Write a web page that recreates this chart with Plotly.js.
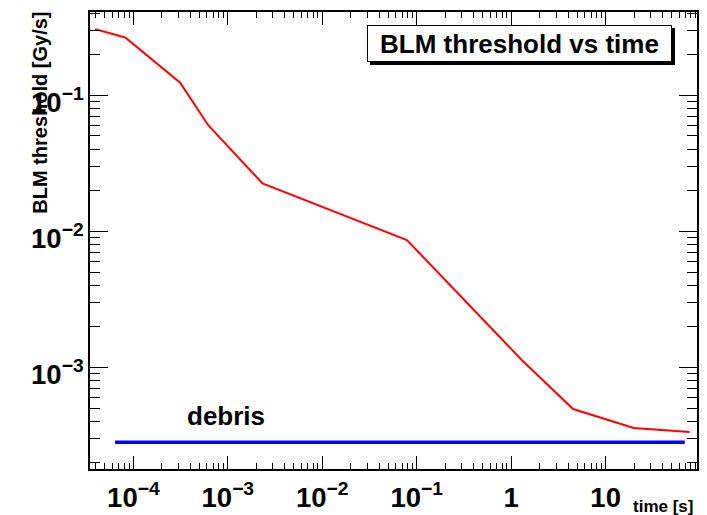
<!DOCTYPE html>
<html>
<head>
<meta charset="utf-8">
<script src="https://cdn.plot.ly/plotly-3.0.1.min.js"></script>
<style>html,body{margin:0;padding:0;background:#fff;}#chart{width:707px;height:515px;}</style>
</head>
<body>
<div id="chart"></div>
<script>
// BLM threshold curve (time in s, threshold in Gy/s)
const thresholdTime = [3.93e-5, 8.2e-5, 3.13e-4, 6.2e-4, 2.33e-3, 0.0787, 1.30, 4.52, 19.8, 77.6];
const thresholdValue = [0.305, 0.265, 0.123, 0.060, 0.0224, 0.0086, 1.125e-3, 4.93e-4, 3.58e-4, 3.34e-4];
// debris level (constant)
const debrisTime = [6.4e-5, 68.7];
const debrisValue = [2.81e-4, 2.81e-4];

const chartTitle = "BLM threshold vs time";
const xTitle = "time [s]";
const yTitle = "BLM threshold [Gy/s]";
const debrisLabel = "debris";

const FONT = "Liberation Sans, Arial, Helvetica, sans-serif";

const traces = [
  {x: thresholdTime, y: thresholdValue, type: 'scatter', mode: 'lines',
   line: {color: '#ff0000', width: 2}, showlegend: false, hoverinfo: 'skip'},
  {x: debrisTime, y: debrisValue, type: 'scatter', mode: 'lines',
   line: {color: '#0000ff', width: 3.5}, showlegend: false, hoverinfo: 'skip'}
];

const axisCommon = {
  type: 'log', showgrid: false, zeroline: false,
  showline: true, linecolor: '#000', linewidth: 2, mirror: 'allticks',
  ticks: 'inside', tickcolor: '#000', tickwidth: 1,
  dtick: 1, exponentformat: 'power',
  tickfont: {family: FONT, size: 22, color: '#000', weight: 'bold'},
};

const layout = {
  width: 707, height: 515,
  margin: {l: 90, r: 10, t: 12, b: 46},
  paper_bgcolor: '#fff', plot_bgcolor: '#fff',
  showlegend: false,
  xaxis: Object.assign({}, axisCommon, {
    range: [-4.459, 1.967], ticklen: 13,
    minor: {ticks: 'inside', ticklen: 6, dtick: 'D1', tickcolor: '#000', tickwidth: 1, showgrid: false},
    ticklabelstandoff: 4
  }),
  yaxis: Object.assign({}, axisCommon, {
    range: [-3.748, -0.390], ticklen: 18,
    minor: {ticks: 'inside', ticklen: 10, dtick: 'D1', tickcolor: '#000', tickwidth: 1, showgrid: false},
    ticklabelstandoff: 0, ticklabelshift: 7
  }),
  shapes: [
    {type: 'rect', xref: 'paper', yref: 'paper', x0: 0.4613, x1: 0.9638, y0: 0.884, y1: 0.965,
     fillcolor: '#000', line: {width: 0}, layer: 'above'}
  ],
  annotations: [
    {text: chartTitle, xref: 'paper', yref: 'paper', x: 0.7076, y: 0.931,
     xanchor: 'center', yanchor: 'middle', showarrow: false,
     font: {family: FONT, size: 26, color: '#000', weight: 'bold'},
     bgcolor: '#fff', bordercolor: '#000', borderwidth: 1, borderpad: 1,
     width: 301, height: 33},
    {text: debrisLabel, xref: 'x', yref: 'y', x: -3.018, y: -3.36,
     xanchor: 'center', yanchor: 'middle', showarrow: false,
     font: {family: FONT, size: 26, color: '#000', weight: 'bold'}},
    {text: xTitle, xref: 'paper', yref: 'paper', x: 0.9967, y: -0.081,
     xanchor: 'right', yanchor: 'middle', showarrow: false,
     font: {family: FONT, size: 17, color: '#000', weight: 'bold'}},
    {text: yTitle, xref: 'paper', yref: 'paper', x: -0.0815, y: 1.004,
     xanchor: 'center', yanchor: 'top', showarrow: false, textangle: -90,
     font: {family: FONT, size: 20, color: '#000', weight: 'bold'}}
  ]
};

Plotly.newPlot('chart', traces, layout, {staticPlot: true, displayModeBar: false});
</script>
</body>
</html>
